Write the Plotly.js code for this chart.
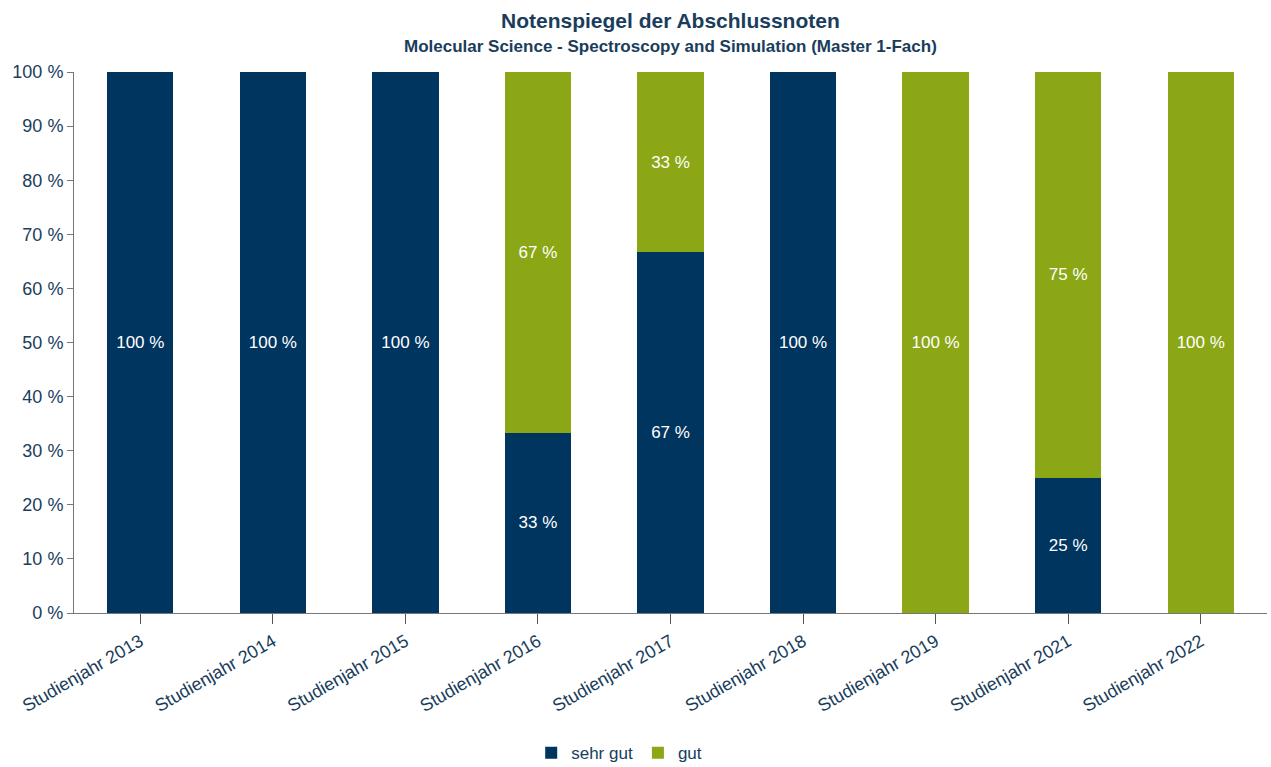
<!DOCTYPE html>
<html><head><meta charset="utf-8">
<script src="https://cdn.plot.ly/plotly-3.0.1.min.js"></script>
<style>body{margin:0;background:#fff}#c{width:1271px;height:767px}</style>
</head><body><div id="c"></div>
<script>
const categories = ["Studienjahr 2013","Studienjahr 2014","Studienjahr 2015","Studienjahr 2016","Studienjahr 2017","Studienjahr 2018","Studienjahr 2019","Studienjahr 2021","Studienjahr 2022"];
const sehrGut = [100,100,100,33.33,66.67,100,0,25,0];
const gut = [0,0,0,66.67,33.33,0,100,75,100];
const yTicks = [0,10,20,30,40,50,60,70,80,90,100];
const titleText = "Notenspiegel der Abschlussnoten";
const subtitleText = "Molecular Science - Spectroscopy and Simulation (Master 1-Fach)";

const txt = a => a.map(v => v > 0 ? Math.round(v) + ' %' : '');
const font = "Liberation Sans, Arial, sans-serif";
const textColor = "#1a3d5c";

const traces = [
  {type:'bar', name:'sehr gut', x:categories, y:sehrGut, text:txt(sehrGut), textposition:'inside', insidetextanchor:'middle',
   textfont:{color:'#ffffff', size:17, family:font}, marker:{color:'#003560'}, hoverinfo:'skip'},
  {type:'bar', name:'gut', x:categories, y:gut, text:txt(gut), textposition:'inside', insidetextanchor:'middle',
   textfont:{color:'#ffffff', size:17, family:font}, marker:{color:'#8BA715'}, hoverinfo:'skip'}
];

const layout = {
  width:1271, height:767,
  barmode:'stack', bargap:0.5,
  margin:{l:74, r:4, t:72, b:154},
  paper_bgcolor:'#fff', plot_bgcolor:'#fff',
  font:{family:font, color:textColor},
  annotations:[
    {text:'<b>'+titleText+'</b>', xref:'paper', yref:'paper', x:0.5, y:1, yshift:52, xanchor:'center', yanchor:'middle',
     showarrow:false, font:{size:21, color:textColor, family:font}},
    {text:'<b>'+subtitleText+'</b>', xref:'paper', yref:'paper', x:0.5, y:1, yshift:26, xanchor:'center', yanchor:'middle',
     showarrow:false, font:{size:17, color:textColor, family:font}}
  ],
  xaxis:{type:'category', tickangle:-30, tickfont:{size:18, color:textColor}, showline:true, linecolor:'#777', linewidth:1,
         ticks:'outside', ticklen:10, tickcolor:'#555', showgrid:false, zeroline:false, automargin:false},
  yaxis:{range:[0,100], tickvals:yTicks, ticktext:yTicks.map(v=>v+' %'), tickfont:{size:18, color:textColor},
         showline:true, linecolor:'#777', linewidth:1, ticks:'outside', ticklen:6, tickcolor:'#777',
         showgrid:false, zeroline:false, automargin:false},
  showlegend:true,
  legend:{orientation:'h', traceorder:'normal', xref:'paper', x:0.457, xanchor:'center', yref:'container', y:0.018, yanchor:'middle',
          font:{size:17, color:textColor}, itemwidth:30, tracegroupgap:0}
};
Plotly.newPlot('c', traces, layout, {displayModeBar:false, staticPlot:true});
</script></body></html>
